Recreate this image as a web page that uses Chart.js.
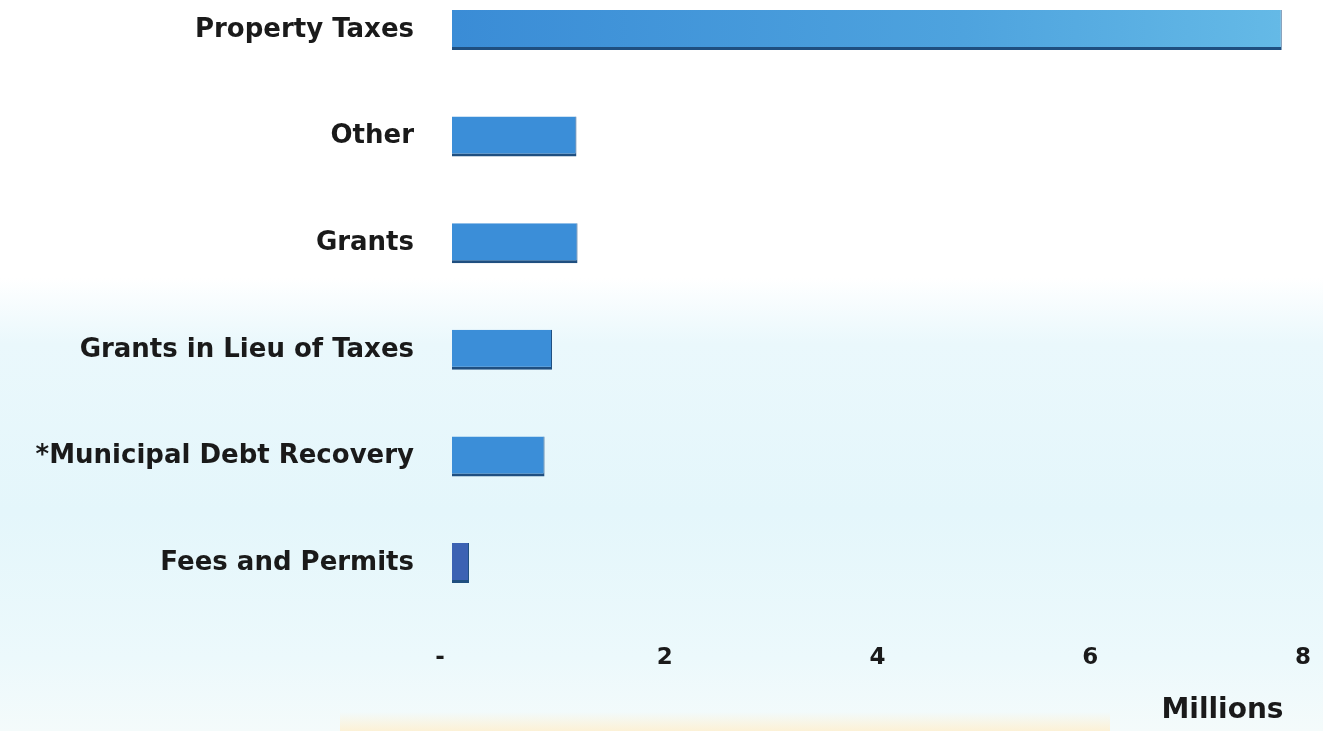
<!DOCTYPE html>
<html>
<head>
<meta charset="utf-8">
<title>Revenue Sources</title>
<script src="https://cdn.jsdelivr.net/npm/chart.js@4"></script>
<style>
  html, body { margin: 0; padding: 0; }
  body {
    width: 1323px; height: 731px; overflow: hidden;
    background: linear-gradient(180deg, #ffffff 0%, #ffffff 38%, #eaf8fc 47%, #e4f6fb 70%, #ecf9fc 90%, #f4fbfb 100%);
  }
  #wrap { position: relative; width: 1323px; height: 731px; }
  #glow {
    position: absolute; left: 340px; top: 712px; width: 770px; height: 19px;
    background: linear-gradient(180deg, rgba(253, 246, 225, 0) 0%, rgba(253, 240, 210, 0.9) 100%);
  }
  canvas { position: absolute; left: 0; top: 0; }
</style>
</head>
<body>
<div id="wrap">
  <div id="glow"></div>
  <canvas id="revenueChart" width="1323" height="731"></canvas>
</div>
<script>
'use strict';

// ====== DATA ======
const categories = ['Property Taxes', 'Other', 'Grants', 'Grants in Lieu of Taxes', '*Municipal Debt Recovery', 'Fees and Permits'];
const amountsMillions = [7.80, 1.17, 1.18, 0.94, 0.87, 0.16];
const tickValues = [0, 2, 4, 6, 8];
const tickLabels = ['-   ', '2', '4', '6', '8'];

// ====== COLOURS ======
function barColor(context) {
    const chart = context.chart;
    const area = chart.chartArea;
    if (context.dataIndex === 0 && area) {
        const g = chart.ctx.createLinearGradient(area.left, 0, area.right, 0);
        g.addColorStop(0, '#3a8cd6');
        g.addColorStop(0.6, '#4ea3de');
        g.addColorStop(1, '#66bbe7');
        return g;
    }
    if (context.dataIndex === 5) return '#3c62b3';
    return '#3b8ed8';
}

const LABEL_FONT = 'DejaVu Sans';

// ====== CHART ======
const ctx = document.getElementById('revenueChart').getContext('2d');
new Chart(ctx, {
    type: 'bar',
    data: {
        labels: categories,
        datasets: [{
            data: amountsMillions,
            backgroundColor: barColor,
            borderColor: '#1f4f80',
            borderWidth: { top: 0, right: 1, bottom: 3, left: 0 },
            borderSkipped: false,
            categoryPercentage: 1,
            barPercentage: 0.375,
            clip: false
        }]
    },
    options: {
        indexAxis: 'y',
        responsive: false,
        animation: false,
        layout: { padding: { top: 30, right: 20, bottom: 0, left: 0 } },
        plugins: { legend: { display: false }, tooltip: { enabled: false } },
        scales: {
            x: {
                min: 0,
                max: 8,
                afterBuildTicks: scale => { scale.ticks = tickValues.map(v => ({ value: v })); },
                afterFit: scale => {
                    scale.paddingLeft = 0;
                    scale.paddingRight = 0;
                    scale.height = 168;
                },
                ticks: {
                    padding: 81,
                    color: '#1a1a1a',
                    font: { family: LABEL_FONT, weight: 'bold', size: 23 },
                    callback: (v) => tickLabels[tickValues.indexOf(v)]
                },
                grid: { display: false, drawTicks: false },
                border: { display: false },
                title: {
                    display: true,
                    text: 'Millions  ',
                    align: 'end',
                    color: '#1a1a1a',
                    font: { family: LABEL_FONT, weight: 'bold', size: 28 },
                    padding: { top: 10, bottom: 3 }
                }
            },
            y: {
                offset: false,
                afterFit: scale => {
                    scale.width = 452;
                    scale.paddingTop = 0;
                    scale.paddingBottom = 0;
                },
                ticks: {
                    padding: 38,
                    color: '#1a1a1a',
                    font: { family: LABEL_FONT, weight: 'bold', size: 26 }
                },
                grid: { display: false, drawTicks: false },
                border: { display: false }
            }
        }
    }
});
</script>
</body>
</html>
